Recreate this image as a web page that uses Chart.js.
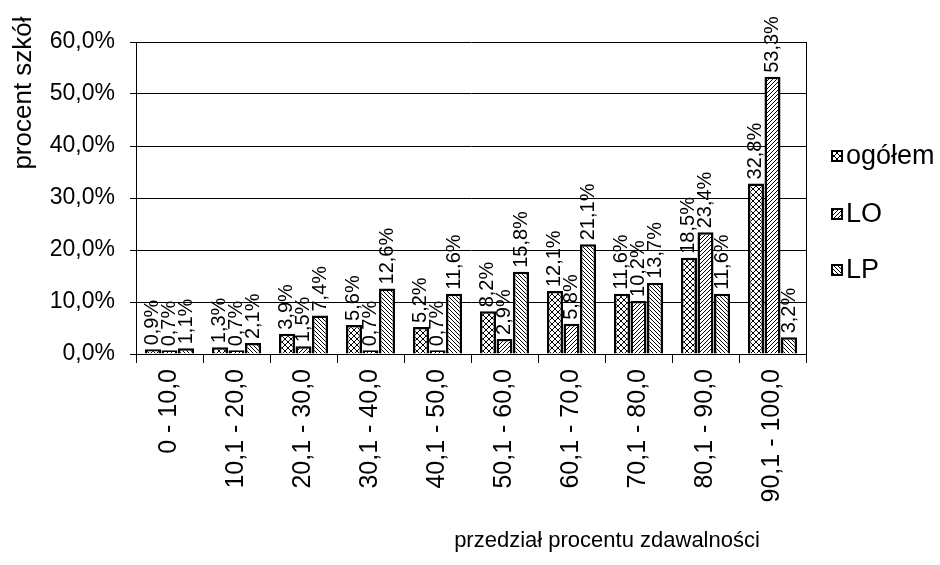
<!DOCTYPE html>
<html>
<head>
<meta charset="utf-8">
<script src="https://cdn.jsdelivr.net/npm/chart.js@4.4.1/dist/chart.umd.min.js"></script>
<style>
  html, body { margin: 0; background: #fff; }
  #wrap { width: 940px; height: 565px; }
</style>
</head>
<body>
<div id="wrap"><canvas id="chart"></canvas></div>
<script>
const categories = ["0 - 10,0", "10,1 - 20,0", "20,1 - 30,0", "30,1 - 40,0", "40,1 - 50,0",
  "50,1 - 60,0", "60,1 - 70,0", "70,1 - 80,0", "80,1 - 90,0", "90,1 - 100,0"];
const seriesNames = ["ogółem", "LO", "LP"];
const ogolem = [0.9, 1.3, 3.9, 5.6, 5.2, 8.2, 12.1, 11.6, 18.5, 32.8];
const lo = [0.7, 0.7, 1.5, 0.7, 0.7, 2.9, 5.8, 10.2, 23.4, 53.3];
const lp = [1.1, 2.1, 7.4, 12.6, 11.6, 15.8, 21.1, 13.7, 11.6, 3.2];
const yMax = 60;
const yStep = 10;

const FONT = '"Liberation Sans", Arial, sans-serif';
const pct = (v) => v.toFixed(1).replace(".", ",") + "%";

// hatch fills, like the old Excel patterns
function hatch(kind) {
  const size = kind === "cross" ? 6 : 4;
  const c = document.createElement("canvas");
  c.width = size;
  c.height = size;
  const g = c.getContext("2d");
  g.fillStyle = "#fff";
  g.fillRect(0, 0, size, size);
  g.strokeStyle = "#000";
  g.lineWidth = 1;
  g.beginPath();
  if (kind === "cross" || kind === "fwd") {
    g.moveTo(-1, size + 1); g.lineTo(size + 1, -1);
  }
  if (kind === "cross" || kind === "back") {
    g.moveTo(-1, -1); g.lineTo(size + 1, size + 1);
  }
  g.stroke();
  return g.createPattern(c, "repeat");
}

const fills = [hatch("cross"), hatch("fwd"), hatch("back")];

const extras = {
  id: "extras",
  afterDatasetsDraw(chart) {
    const { ctx, chartArea } = chart;
    ctx.save();
    // right frame line
    ctx.strokeStyle = "#000";
    ctx.lineWidth = 1;
    ctx.beginPath();
    ctx.moveTo(chartArea.right + 0.5, chartArea.top);
    ctx.lineTo(chartArea.right + 0.5, chartArea.bottom);
    ctx.stroke();

    // value labels, vertical
    ctx.fillStyle = "#000";
    ctx.font = "20px " + FONT;
    ctx.textAlign = "left";
    ctx.textBaseline = "middle";
    chart.data.datasets.forEach((ds, i) => {
      chart.getDatasetMeta(i).data.forEach((bar, j) => {
        ctx.save();
        ctx.translate(bar.x, bar.y - 4);
        ctx.rotate(-Math.PI / 2);
        ctx.fillText(pct(ds.data[j]), 0, 0);
        ctx.restore();
      });
    });

    // axis titles
    ctx.font = "26px " + FONT;
    ctx.save();
    ctx.translate(24, 93);
    ctx.rotate(-Math.PI / 2);
    ctx.textAlign = "center";
    ctx.fillText("procent szkół", 0, 0);
    ctx.restore();
    ctx.font = "22px " + FONT;
    ctx.textAlign = "center";
    ctx.fillText("przedział procentu zdawalności", 607, 541);

    // legend
    ctx.font = "27px " + FONT;
    ctx.textAlign = "left";
    const rows = [156, 214, 270];
    chart.data.datasets.forEach((ds, i) => {
      ctx.fillStyle = ds.backgroundColor;
      ctx.fillRect(831, rows[i] - 6, 12, 12);
      ctx.strokeStyle = "#000";
      ctx.lineWidth = 2;
      ctx.strokeRect(832, rows[i] - 5, 10, 10);
      ctx.fillStyle = "#000";
      ctx.fillText(ds.label, 846, rows[i] + 1);
    });
    ctx.restore();
  },
};

new Chart(document.getElementById("chart"), {
  type: "bar",
  data: {
    labels: categories,
    datasets: [ogolem, lo, lp].map((values, i) => ({
      label: seriesNames[i],
      data: values,
      backgroundColor: fills[i],
      borderColor: "#000",
      borderWidth: 2.5,
      categoryPercentage: 0.74,
      barPercentage: 0.97,
    })),
  },
  options: {
    responsive: true,
    maintainAspectRatio: false,
    animation: false,
    layout: { padding: { top: 42, right: 134, left: 0, bottom: 0 } },
    plugins: {
      legend: { display: false },
      tooltip: { enabled: false },
    },
    scales: {
      x: {
        grid: { offset: true, drawOnChartArea: false, tickLength: 9, color: "#000" },
        border: { color: "#000" },
        ticks: {
          color: "#000",
          font: { family: FONT, size: 25 },
          minRotation: 90,
          maxRotation: 90,
          autoSkip: false,
          padding: 6,
        },
        afterFit: (scale) => { scale.height = 211; },
      },
      y: {
        min: 0,
        max: yMax,
        ticks: {
          stepSize: yStep,
          color: "#000",
          font: { family: FONT, size: 23 },
          padding: 15,
          callback: (v) => pct(v),
        },
        grid: { color: "#000", tickLength: 6 },
        border: { color: "#000" },
        afterFit: (scale) => { scale.width = 136; },
      },
    },
  },
  plugins: [extras],
});
</script>
</body>
</html>
